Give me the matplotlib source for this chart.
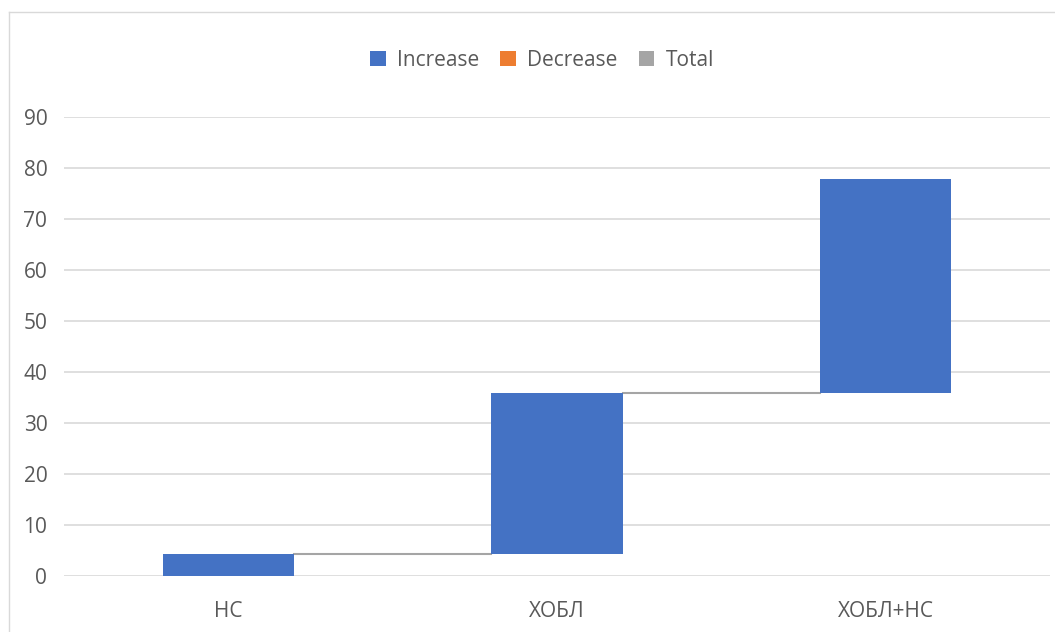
import matplotlib
matplotlib.use("Agg")
import matplotlib.pyplot as plt
from matplotlib.patches import Patch
from matplotlib.lines import Line2D

categories = ["НС", "ХОБЛ", "ХОБЛ+НС"]
increments = [4.3, 31.5, 42.0]
yticks = [0, 10, 20, 30, 40, 50, 60, 70, 80, 90]
legend_labels = ["Increase", "Decrease", "Total"]
legend_colors = ["#4472C4", "#ED7D31", "#A5A5A5"]

plt.rcParams['font.family'] = ['Open Sans', 'DejaVu Sans']

W, H = 1055, 632
fig = plt.figure(figsize=(W/100, H/100), dpi=100)
# chart area border (left and top edges visible)
fig.add_artist(Line2D([8.5/W, 8.5/W], [0, 1 - 11.5/H], transform=fig.transFigure,
                      color="#D9D9D9", linewidth=1))
fig.add_artist(Line2D([8.5/W, 1], [1 - 11.5/H, 1 - 11.5/H], transform=fig.transFigure,
                      color="#D9D9D9", linewidth=1))

ax = fig.add_axes([64/W, (H-576)/H, (1050-64)/W, (576-117)/H])

bottoms = []
cum = 0
for v in increments:
    bottoms.append(cum)
    cum += v
tops = [b + v for b, v in zip(bottoms, increments)]

xs = list(range(len(categories)))
width = 0.4
ax.bar(xs, increments, bottom=bottoms, width=width, color="#4472C4", zorder=3)

for i in range(len(categories) - 1):
    ax.plot([xs[i] + width/2, xs[i+1] - width/2], [tops[i], tops[i]],
            color="#A5A5A5", linewidth=1.5, zorder=2)

ax.set_xlim(-0.5, len(categories) - 0.5)
ax.set_ylim(0, 90)
ax.set_yticks(yticks)
ax.set_xticks(xs)
ax.set_xticklabels(categories)
ax.yaxis.grid(True, color="#D9D9D9", linewidth=1.2, zorder=0)
ax.set_axisbelow(True)
for s in ax.spines.values():
    s.set_visible(False)
ax.tick_params(axis='both', length=0, colors="#595959", labelsize=15)
ax.tick_params(axis='x', pad=18)
ax.tick_params(axis='y', pad=12)

handles = [Patch(facecolor=c, edgecolor='none') for c in legend_colors]
fig.legend(handles, legend_labels, loc='center', bbox_to_anchor=(542/W, 1 - 60/H),
           ncol=3, frameon=False, fontsize=15, handlelength=0.75, handleheight=0.75,
           handletextpad=0.55, columnspacing=1.0, labelcolor="#595959")

fig.savefig("out.png", dpi=100)
